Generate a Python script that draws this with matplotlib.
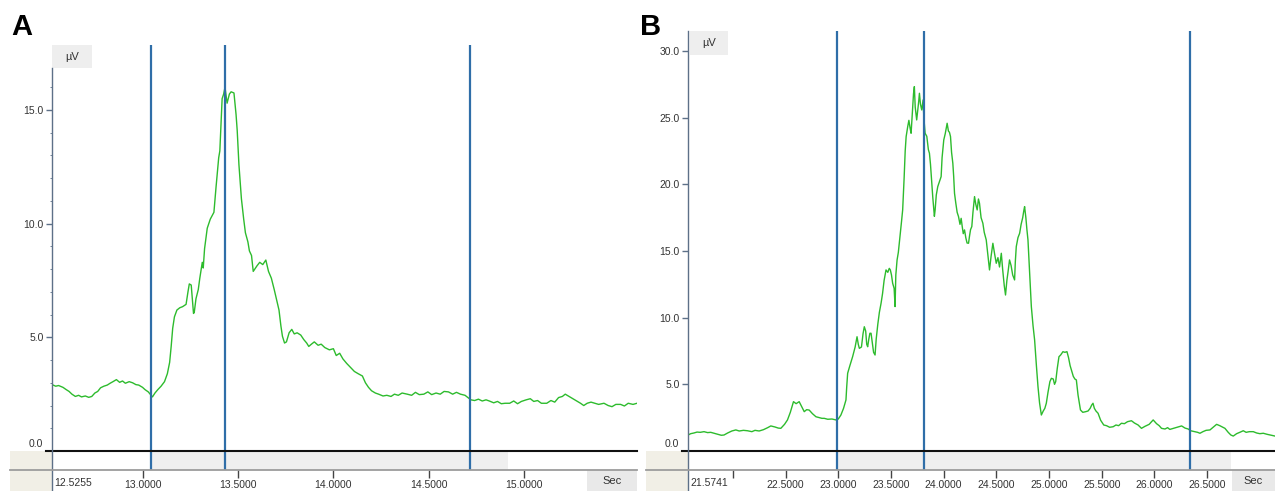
import matplotlib.pyplot as plt
from matplotlib.lines import Line2D
from matplotlib.patches import Rectangle
import numpy as np

plt.rcParams['font.family'] = ['Liberation Sans', 'DejaVu Sans']

# panel A trace (s, uV)
a_time = [12.526, 12.545, 12.560, 12.583, 12.600, 12.615, 12.630, 12.648, 12.665, 12.680,
          12.700, 12.718, 12.734, 12.750, 12.765, 12.780, 12.797, 12.815, 12.830, 12.845,
          12.863, 12.880, 12.895, 12.910, 12.930, 12.948, 12.965, 12.980, 13.000, 13.013,
          13.030, 13.045, 13.052, 13.065, 13.080, 13.097, 13.115, 13.130, 13.142, 13.150,
          13.158, 13.167, 13.180, 13.195, 13.210, 13.228, 13.238, 13.245, 13.255, 13.262,
          13.267, 13.271, 13.280, 13.292, 13.300, 13.313, 13.318, 13.325, 13.339, 13.355,
          13.374, 13.385, 13.399, 13.405, 13.410, 13.417, 13.425, 13.432, 13.443, 13.455,
          13.464, 13.479, 13.490, 13.496, 13.505, 13.518, 13.530, 13.539, 13.552, 13.560,
          13.571, 13.580, 13.588, 13.600, 13.614, 13.630, 13.646, 13.660, 13.675, 13.690,
          13.701, 13.715, 13.725, 13.733, 13.744, 13.754, 13.768, 13.782, 13.795, 13.810,
          13.829, 13.845, 13.860, 13.871, 13.885, 13.900, 13.920, 13.936, 13.955, 13.979,
          14.000, 14.015, 14.033, 14.050, 14.070, 14.087, 14.110, 14.130, 14.152, 14.168,
          14.184, 14.200, 14.220, 14.237, 14.260, 14.280, 14.302, 14.320, 14.340, 14.360,
          14.387, 14.410, 14.430, 14.450, 14.474, 14.495, 14.515, 14.538, 14.560, 14.580,
          14.603, 14.625, 14.645, 14.666, 14.690, 14.705, 14.721, 14.740, 14.760, 14.780,
          14.800, 14.817, 14.840, 14.860, 14.880, 14.900, 14.924, 14.945, 14.965, 14.985,
          15.010, 15.032, 15.050, 15.070, 15.090, 15.118, 15.140, 15.160, 15.180, 15.200,
          15.215, 15.235, 15.255, 15.275, 15.295, 15.312, 15.330, 15.350, 15.370, 15.390,
          15.418, 15.440, 15.460, 15.480, 15.505, 15.525, 15.545, 15.570, 15.591]
a_uv = [2.92, 2.85, 2.88, 2.80, 2.70, 2.62, 2.50, 2.40, 2.45, 2.38,
        2.42, 2.36, 2.40, 2.55, 2.62, 2.78, 2.85, 2.90, 2.98, 3.05,
        3.14, 3.02, 3.08, 2.98, 3.05, 3.00, 2.92, 2.90, 2.80, 2.70,
        2.60, 2.45, 2.38, 2.55, 2.70, 2.85, 3.05, 3.40, 3.90, 4.60,
        5.40, 5.90, 6.20, 6.30, 6.35, 6.45, 7.00, 7.35, 7.30, 6.60,
        6.05, 6.10, 6.70, 7.10, 7.60, 8.30, 8.05, 8.90, 9.80, 10.20,
        10.50, 11.60, 12.90, 13.20, 14.20, 15.50, 15.70, 16.00, 15.30, 15.70,
        15.80, 15.75, 14.80, 14.10, 12.60, 11.10, 10.20, 9.60, 9.20, 8.80,
        8.60, 7.90, 8.00, 8.15, 8.30, 8.20, 8.40, 7.90, 7.60, 7.10,
        6.70, 6.20, 5.50, 5.05, 4.75, 4.80, 5.20, 5.35, 5.15, 5.20,
        5.10, 4.90, 4.75, 4.60, 4.70, 4.80, 4.65, 4.70, 4.55, 4.45,
        4.50, 4.20, 4.30, 4.05, 3.85, 3.70, 3.50, 3.40, 3.30, 3.00,
        2.80, 2.65, 2.55, 2.50, 2.42, 2.45, 2.40, 2.50, 2.45, 2.55,
        2.50, 2.45, 2.58, 2.48, 2.50, 2.60, 2.48, 2.55, 2.50, 2.62,
        2.60, 2.50, 2.58, 2.50, 2.45, 2.35, 2.25, 2.22, 2.28, 2.20,
        2.25, 2.20, 2.12, 2.18, 2.08, 2.10, 2.10, 2.20, 2.08, 2.18,
        2.25, 2.30, 2.18, 2.22, 2.10, 2.10, 2.22, 2.15, 2.35, 2.40,
        2.50, 2.40, 2.30, 2.20, 2.10, 2.00, 2.10, 2.15, 2.10, 2.05,
        2.10, 2.00, 1.95, 2.05, 2.05, 1.98, 2.10, 2.05, 2.10]

# panel B trace
b_time = [21.575, 21.600, 21.630, 21.660, 21.690, 21.726, 21.760, 21.790, 21.821, 21.860,
          21.890, 21.916, 21.950, 21.990, 22.028, 22.060, 22.100, 22.138, 22.180, 22.210,
          22.249, 22.290, 22.330, 22.360, 22.400, 22.430, 22.455, 22.490, 22.518, 22.545,
          22.575, 22.600, 22.629, 22.655, 22.677, 22.700, 22.724, 22.755, 22.788, 22.820,
          22.845, 22.867, 22.900, 22.940, 22.978, 23.000, 23.025, 23.050, 23.073, 23.080,
          23.089, 23.110, 23.136, 23.160, 23.178, 23.190, 23.200, 23.220, 23.235, 23.247,
          23.260, 23.270, 23.279, 23.290, 23.300, 23.311, 23.325, 23.335, 23.349, 23.360,
          23.375, 23.390, 23.406, 23.420, 23.435, 23.453, 23.470, 23.484, 23.494, 23.505,
          23.516, 23.530, 23.539, 23.546, 23.558, 23.570, 23.589, 23.600, 23.611, 23.625,
          23.635, 23.644, 23.659, 23.670, 23.682, 23.691, 23.700, 23.706, 23.714, 23.722,
          23.730, 23.744, 23.755, 23.763, 23.770, 23.780, 23.792, 23.805, 23.812, 23.824,
          23.840, 23.855, 23.865, 23.875, 23.887, 23.897, 23.905, 23.912, 23.919, 23.930,
          23.944, 23.960, 23.976, 23.985, 24.001, 24.015, 24.033, 24.045, 24.055, 24.065,
          24.075, 24.087, 24.095, 24.103, 24.115, 24.128, 24.141, 24.155, 24.166, 24.175,
          24.186, 24.198, 24.210, 24.222, 24.236, 24.245, 24.255, 24.267, 24.278, 24.293,
          24.305, 24.318, 24.330, 24.340, 24.355, 24.372, 24.385, 24.404, 24.418, 24.435,
          24.450, 24.467, 24.483, 24.499, 24.515, 24.530, 24.547, 24.560, 24.575, 24.587,
          24.600, 24.612, 24.625, 24.640, 24.655, 24.665, 24.673, 24.680, 24.689, 24.705,
          24.721, 24.735, 24.750, 24.760, 24.768, 24.780, 24.790, 24.800, 24.815, 24.832,
          24.848, 24.863, 24.880, 24.895, 24.910, 24.927, 24.945, 24.960, 24.974, 24.990,
          25.008, 25.022, 25.040, 25.052, 25.063, 25.078, 25.094, 25.110, 25.132, 25.150,
          25.170, 25.185, 25.200, 25.212, 25.230, 25.245, 25.259, 25.275, 25.298, 25.320,
          25.348, 25.370, 25.390, 25.405, 25.417, 25.430, 25.445, 25.465, 25.490, 25.519,
          25.545, 25.575, 25.608, 25.635, 25.660, 25.687, 25.715, 25.745, 25.782, 25.810,
          25.845, 25.877, 25.910, 25.950, 25.988, 26.020, 26.045, 26.067, 26.100, 26.125,
          26.146, 26.180, 26.220, 26.258, 26.290, 26.320, 26.343, 26.380, 26.410, 26.432,
          26.460, 26.490, 26.527, 26.560, 26.590, 26.620, 26.645, 26.669, 26.700, 26.725,
          26.748, 26.780, 26.810, 26.843, 26.870, 26.900, 26.938, 26.970, 27.000, 27.033,
          27.070, 27.110, 27.144]
b_uv = [1.20, 1.30, 1.35, 1.42, 1.40, 1.45, 1.38, 1.40, 1.33, 1.25,
        1.18, 1.20, 1.35, 1.50, 1.58, 1.50, 1.55, 1.52, 1.45, 1.55,
        1.50, 1.60, 1.75, 1.88, 1.80, 1.72, 1.70, 2.00, 2.33, 2.90,
        3.70, 3.55, 3.70, 3.30, 2.95, 3.10, 3.07, 2.80, 2.57, 2.50,
        2.45, 2.45, 2.38, 2.40, 2.33, 2.40, 2.70, 3.20, 3.83, 4.80,
        5.83, 6.40, 7.07, 7.80, 8.57, 8.00, 7.70, 7.80, 8.80, 9.32,
        9.00, 8.00, 7.82, 8.40, 8.83, 8.83, 8.00, 7.40, 7.20, 8.40,
        9.50, 10.40, 11.08, 11.80, 12.80, 13.58, 13.40, 13.70, 13.58, 13.20,
        12.58, 12.20, 10.83, 13.20, 14.33, 14.90, 16.33, 17.20, 18.08, 20.50,
        22.50, 23.58, 24.33, 24.80, 24.20, 23.83, 25.00, 25.83, 26.80, 27.33,
        25.80, 24.83, 25.60, 26.20, 26.83, 26.00, 25.58, 26.33, 25.00, 23.83,
        23.60, 22.60, 22.33, 21.50, 20.08, 19.00, 18.20, 17.60, 18.08, 19.20,
        19.83, 20.20, 20.58, 22.00, 23.33, 23.80, 24.58, 24.00, 23.90, 23.58,
        22.40, 21.58, 20.60, 19.33, 18.60, 17.90, 17.58, 17.00, 17.45, 16.90,
        16.30, 16.58, 16.00, 15.60, 15.58, 16.10, 16.60, 16.83, 17.90, 19.08,
        18.50, 18.08, 18.90, 18.58, 17.50, 17.08, 16.40, 15.83, 14.80, 13.58,
        14.60, 15.58, 14.80, 14.08, 14.50, 13.80, 14.83, 13.60, 12.40, 11.70,
        12.80, 13.50, 14.33, 13.90, 13.20, 13.00, 12.83, 14.20, 15.33, 16.00,
        16.33, 17.00, 17.50, 18.00, 18.33, 17.50, 16.60, 15.83, 13.50, 10.83,
        9.40, 8.33, 6.40, 4.83, 3.60, 2.70, 3.00, 3.20, 3.58, 4.40,
        5.20, 5.45, 5.40, 5.00, 5.20, 6.20, 7.07, 7.20, 7.45, 7.40,
        7.45, 7.00, 6.40, 6.08, 5.60, 5.40, 5.33, 4.20, 3.08, 2.90,
        2.95, 3.00, 3.20, 3.45, 3.58, 3.20, 3.00, 2.83, 2.30, 1.95,
        1.90, 1.78, 1.82, 1.95, 1.90, 2.08, 2.05, 2.20, 2.27, 2.10,
        1.95, 1.70, 1.85, 2.00, 2.33, 2.05, 1.90, 1.70, 1.65, 1.75,
        1.62, 1.70, 1.80, 1.88, 1.72, 1.65, 1.52, 1.45, 1.40, 1.33,
        1.45, 1.55, 1.58, 1.80, 2.00, 1.90, 1.80, 1.70, 1.40, 1.20,
        1.12, 1.30, 1.40, 1.52, 1.40, 1.45, 1.45, 1.35, 1.30, 1.33,
        1.25, 1.18, 1.12]

# cursor positions (s)
a_markers = [13.045, 13.434, 14.718]
b_markers = [22.987, 23.814, 26.342]

a_xticks = [13.0, 13.5, 14.0, 14.5, 15.0]
a_xticklabels = ['13.0000', '13.5000', '14.0000', '14.5000', '15.0000']
b_xticks = [22.0, 22.5, 23.0, 23.5, 24.0, 24.5, 25.0, 25.5, 26.0, 26.5]
b_xticklabels = ['', '22.5000', '23.0000', '23.5000', '24.0000', '24.5000',
                 '25.0000', '25.5000', '26.0000', '26.5000']
a_yticks = [5.0, 10.0, 15.0]
b_yticks = [5.0, 10.0, 15.0, 20.0, 25.0, 30.0]

W, H = 1275, 491
GREEN = '#2dbb2d'
BLUE = '#2f6ea8'
AXIS = '#5d7088'
TXT = '#333333'


def fx(px):
    return px / W


def fy(py):
    return 1 - py / H


def fig_line(fig, x0, y0, x1, y1, **kw):
    fig.add_artist(Line2D([fx(x0), fx(x1)], [fy(y0), fy(y1)], transform=fig.transFigure, **kw))


def fig_box(fig, x0, y0, x1, y1, color):
    fig.add_artist(Rectangle((fx(x0), fy(y1)), fx(x1) - fx(x0), fy(y0) - fy(y1),
                             transform=fig.transFigure, color=color, lw=0, zorder=0))


def draw_panel(fig, left, right, top, ytop_axis, t, v, markers, xlim, xticks, xticklabels,
               yticks, start_label, band_end, letter, unit_box, sec_box, minor=False):
    # pixel layout: zero line at y=451, grey x axis at y=470
    ax = fig.add_axes([fx(left), fy(470), fx(right) - fx(left), fy(top) - fy(470)])
    px_per_uv = (451 - ytop_axis[1]) / ytop_axis[0]
    ax.set_xlim(*xlim)
    ax.set_ylim(-(470 - 451) / px_per_uv, (451 - top) / px_per_uv)
    for s in ax.spines.values():
        s.set_visible(False)
    ax.patch.set_alpha(0)

    # grey scroll band under the zero line
    ax.axhspan(ax.get_ylim()[0], 0, xmin=(markers[0] - xlim[0]) / (xlim[1] - xlim[0]),
               xmax=(band_end - xlim[0]) / (xlim[1] - xlim[0]), color='#efefef', lw=0, zorder=0)
    ax.plot(t, v, color=GREEN, lw=1.0, zorder=2)
    for m in markers:
        ax.axvline(m, ymin=0, ymax=1, color=BLUE, lw=1.6, zorder=3)
        ax.plot([m, m], [ax.get_ylim()[0], ax.get_ylim()[0]], alpha=0)
    ax.axhline(0, xmin=-0.01, xmax=1, color='#111111', lw=1.5, clip_on=False, zorder=4)

    ax.set_xticks(xticks)
    ax.set_xticklabels(xticklabels)
    ax.tick_params(axis='x', direction='out', length=6, width=1, color='#444444',
                   labelsize=7.5, labelcolor=TXT, pad=1)
    ax.set_yticks(yticks)
    ax.set_yticklabels([f'{y:.1f}' for y in yticks])
    ax.tick_params(axis='y', direction='out', length=4, width=1, color=AXIS,
                   labelsize=7.5, labelcolor=TXT, pad=2)
    if minor:
        ax.set_yticks(np.arange(1, 17, 1), minor=True)
        ax.tick_params(axis='y', which='minor', length=1.5, color=AXIS)

    # axis lines drawn on the figure so they run past the plot area
    fig_line(fig, left, top + 23 if minor else top, left, H, color=AXIS, lw=1.0, zorder=5)
    fig_line(fig, left - 42, 470, right, 470, color='#9c9c9c', lw=1.3, zorder=5)
    fig_box(fig, left - 42, 451, left, H, '#f1efe6')

    fig.text(fx(left + 2), fy(483), start_label, fontsize=7.5, color=TXT, va='center', ha='left')
    fig.text(fx(left - 9), fy(444), '0.0', fontsize=7.5, color=TXT, va='center', ha='right')

    bx0, by0, bx1, by1 = unit_box
    fig_box(fig, bx0, by0, bx1, by1, '#eeeeee')
    fig.text(fx((bx0 + bx1) / 2), fy((by0 + by1) / 2), 'µV', fontsize=8, color=TXT,
             ha='center', va='center')
    sx0, sy0, sx1, sy1 = sec_box
    fig_box(fig, sx0, sy0, sx1, sy1, '#e9e9e9')
    fig.text(fx((sx0 + sx1) / 2), fy((sy0 + sy1) / 2), 'Sec', fontsize=8, color=TXT,
             ha='center', va='center')

    fig.text(letter[1], letter[2], letter[0], fontsize=21, fontweight='bold', color='black',
             ha='left', va='center')
    return ax


fig = plt.figure(figsize=(W / 100, H / 100), dpi=100)
fig.patch.set_facecolor('white')

draw_panel(fig, 52, 637, 45, (15.0, 110), a_time, a_uv, a_markers, (12.5255, 15.591),
           a_xticks, a_xticklabels, a_yticks, '12.5255', 14.913,
           ('A', fx(11), fy(27)), (52, 45, 92, 68), (587, 470, 637, H), minor=True)
draw_panel(fig, 688, W, 31, (30.0, 51), b_time, b_uv, b_markers, (21.5741, 27.144),
           b_xticks, b_xticklabels, b_yticks, '21.5741', 26.726,
           ('B', fx(640), fy(27)), (690, 31, 728, 55), (1232, 470, W, H))

fig.savefig('out.png', dpi=100)
